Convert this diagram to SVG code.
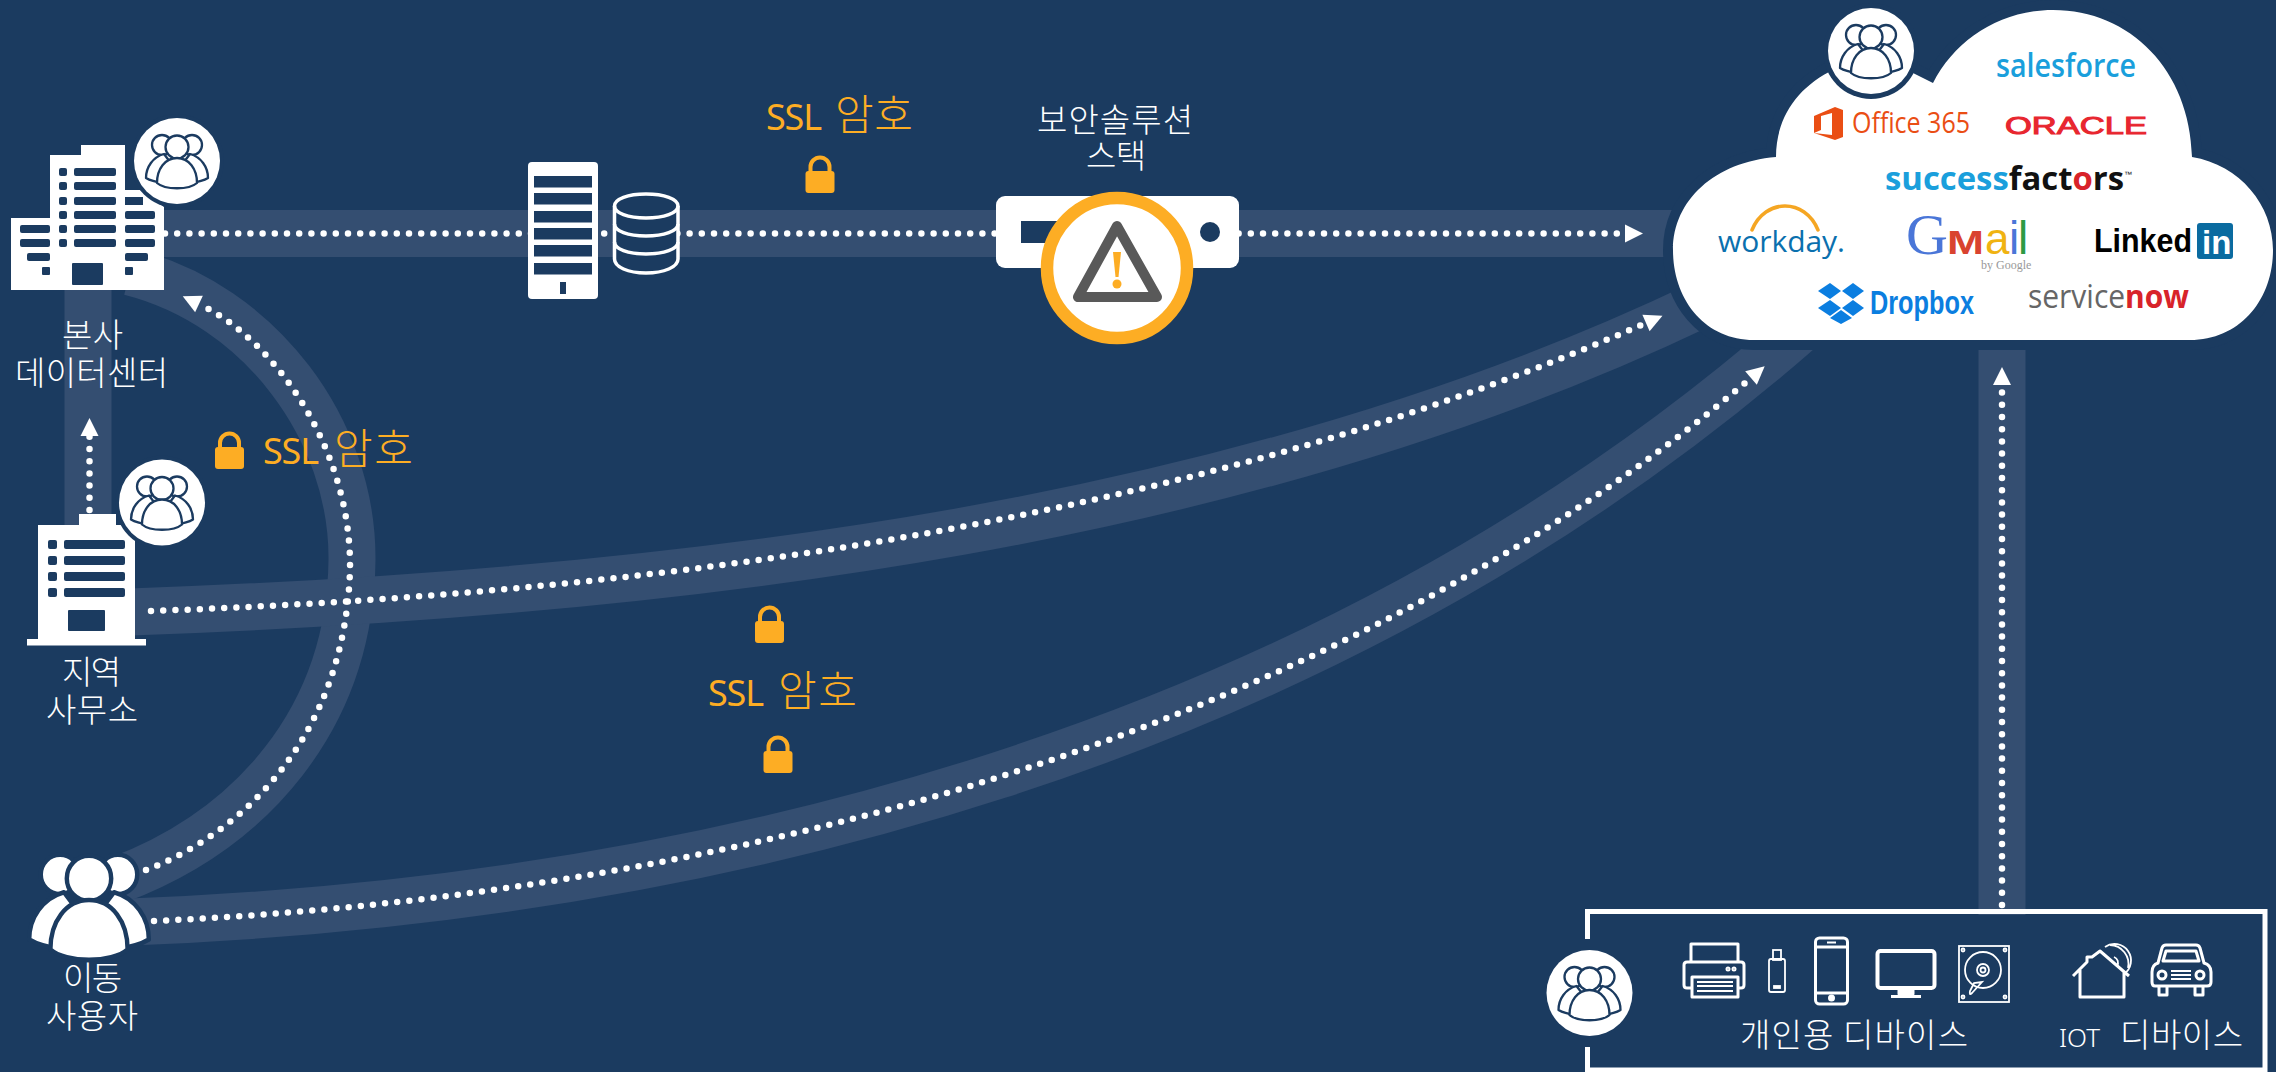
<svg xmlns="http://www.w3.org/2000/svg" width="2276" height="1072" viewBox="0 0 2276 1072">
<style>
.lbl{font-family:"Noto Sans CJK KR","Noto Sans",sans-serif;font-size:33px;fill:#fff;font-weight:300}
.ssl{font-family:"Noto Sans CJK KR","Noto Sans",sans-serif;font-size:42px;fill:#fdad24;font-weight:300}
.ssl .en{font-family:"Noto Sans","Open Sans",sans-serif;font-size:36px;font-weight:400}
.band{fill:none;stroke:#344e71;stroke-width:47}
.dots{fill:none;stroke:#fff;stroke-width:6.5;stroke-linecap:round;stroke-dasharray:0 12.2}
.dev{fill:none;stroke:#fff;stroke-width:3;stroke-linejoin:round}
.thin{fill:none;stroke:#fff;stroke-width:1.8}
.win{fill:#1b3b60}
.badge{fill:#fff}
.logo{font-family:"Open Sans","Liberation Sans",sans-serif}
.arial{font-family:"Liberation Sans",Arial,sans-serif}
</style>
<defs>
<marker id="arr" markerUnits="userSpaceOnUse" markerWidth="20" markerHeight="20" refX="1" refY="10" orient="auto"><path d="M1 1L19 10L1 19Z" fill="#fff"/></marker>
<g id="people" fill="#fff" stroke="#1b3b60" stroke-width="2.3" stroke-linejoin="round">
<circle cx="-15" cy="-16" r="10"/><circle cx="15" cy="-16" r="10"/>
<path d="M-13-7C-24-4-31 6-31 17C-26 20-21 21-14 22L0 10Z"/>
<path d="M13-7C24-4 31 6 31 17C26 20 21 21 14 22L0 10Z"/>
<circle cx="0" cy="-14" r="11.5"/>
<path d="M0-3C-12-3-20 8-20 22C-12 29 12 29 20 22C20 8 12-3 0-3Z"/>
</g>
<g id="lock"><path d="M-9.500 -3V-8A9.500 9.500 0 0 1 9.500 -8V-3" fill="none" stroke="#fdad24" stroke-width="4"/><rect x="-14.500" y="-4" width="29" height="22" rx="3" fill="#fdad24"/></g>
</defs>
<rect width="2276" height="1072" fill="#1b3b60"/>
<g id="connectors">
<path class="band" d="M120 233.500H1700"/>
<path class="band" d="M88 285V530"/>
<path class="band" d="M118 880C250 830 350 720 352 560C353 430 260 305 130 272"/>
<path class="band" d="M130 612C700 592 1250 520 1700 305"/>
<path class="band" d="M130 922C700 900 1320 750 1800 330"/>
<path class="band" d="M2002 300V915"/>
<path class="dots" d="M165 233.500H1625" marker-end="url(#arr)"/>
<path class="dots" d="M89.500 510V436" marker-end="url(#arr)"/>
<path class="dots" d="M146 870C250 830 345 730 350 570C352 450 275 340 199 304" marker-end="url(#arr)"/>
<path class="dots" d="M151 611C700 592 1220 510 1646 323" marker-end="url(#arr)"/>
<path class="dots" d="M154 921C700 897 1320 745 1751 378" marker-end="url(#arr)"/>
<path class="dots" d="M2002 905V385" marker-end="url(#arr)"/>
</g>
<g id="hq">
<path fill="#fff" d="M11 218H50V155H81V145H125V190H140L164 207V290H11Z"/>
<g class="win">
<rect x="59" y="168" width="8" height="8" rx="2"/><rect x="74" y="168" width="42" height="8" rx="2"/>
<rect x="59" y="182" width="8" height="8" rx="2"/><rect x="74" y="182" width="42" height="8" rx="2"/>
<rect x="59" y="197" width="8" height="8" rx="2"/><rect x="74" y="197" width="42" height="8" rx="2"/><rect x="125" y="197" width="18" height="8"/>
<rect x="59" y="211" width="8" height="8" rx="2"/><rect x="74" y="211" width="42" height="8" rx="2"/><rect x="125" y="211" width="30" height="8" rx="2"/>
<rect x="59" y="225" width="8" height="8" rx="2"/><rect x="74" y="225" width="42" height="8" rx="2"/><rect x="125" y="225" width="30" height="8" rx="2"/><rect x="20" y="225" width="30" height="8" rx="2"/>
<rect x="59" y="239" width="8" height="8" rx="2"/><rect x="74" y="239" width="42" height="8" rx="2"/><rect x="125" y="239" width="30" height="8" rx="2"/><rect x="20" y="239" width="30" height="8" rx="2"/>
<rect x="27" y="253" width="23" height="8" rx="2"/><rect x="125" y="253" width="23" height="8" rx="2"/>
<rect x="42" y="267" width="8" height="8" rx="1"/><rect x="125" y="267" width="8" height="8" rx="1"/>
<rect x="72" y="263" width="31" height="22" rx="1"/>
</g>
<circle cx="177" cy="161" r="47" fill="#1b3b60"/><circle class="badge" cx="177" cy="161" r="43"/><use href="#people" x="177" y="161"/>
<text class="lbl" x="62" y="347" textLength="61">본사</text>
<text class="lbl" x="15" y="385" textLength="153">데이터센터</text>
</g>
<g id="datacenter">
<rect x="528" y="162" width="70" height="137" rx="4" fill="#fff"/>
<g class="win"><rect x="534" y="176" width="58" height="11.500"/><rect x="534" y="193" width="58" height="11.500"/><rect x="534" y="211" width="58" height="11.500"/><rect x="534" y="228" width="58" height="11.500"/><rect x="534" y="245" width="58" height="11.500"/><rect x="534" y="263" width="58" height="11.500"/><rect x="560" y="282" width="6" height="12"/></g>
<path d="M614.500 206C614.500 199 628 194 646 194C664 194 678 199 678 206V259C678 267 664 273 646 273C628 273 614.500 267 614.500 259Z" fill="#1b3b60" stroke="#fff" stroke-width="3.500"/>
<path d="M614.500 206C614.500 213 628 218 646 218C664 218 678 213 678 206M614.500 224C614.500 231 628 236 646 236C664 236 678 231 678 224M614.500 242C614.500 249 628 254 646 254C664 254 678 249 678 242" fill="none" stroke="#fff" stroke-width="3.500"/>
</g>
<g id="ssl-labels">
<text class="ssl" y="130"><tspan class="en" x="766" textLength="56">SSL</tspan> <tspan x="835" textLength="78">암호</tspan></text><use href="#lock" x="820" y="175"/>
<text class="ssl" y="464"><tspan class="en" x="263" textLength="56">SSL</tspan> <tspan x="334" textLength="79">암호</tspan></text><use href="#lock" x="229.500" y="451"/>
<text class="ssl" y="706"><tspan class="en" x="708" textLength="56">SSL</tspan> <tspan x="778" textLength="79">암호</tspan></text><use href="#lock" x="769.500" y="625"/><use href="#lock" x="778" y="755"/>
</g>
<g id="security">
<text class="lbl" x="1037" y="132" textLength="156">보안솔루션</text>
<text class="lbl" x="1086" y="168" textLength="60">스택</text>
<rect x="996" y="196" width="243" height="72" rx="9" fill="#fff"/>
<rect class="win" x="1021" y="221" width="39" height="22"/><circle class="win" cx="1210" cy="232" r="10"/>
<circle cx="1117" cy="268" r="70" fill="#fff" stroke="#fdad24" stroke-width="12.500"/>
<path d="M1117 226L1078 297H1157Z" fill="none" stroke="#595959" stroke-width="10" stroke-linejoin="round"/>
<path d="M1113 252H1121L1118.500 277H1115.500Z" fill="#fdad24"/><circle cx="1117" cy="284" r="4.500" fill="#fdad24"/>
</g>
<g id="regional">
<path fill="#fff" d="M38 525H79V514H116V525H135V639H146V645.500H27V639H38Z"/>
<g class="win">
<rect x="48" y="540" width="9" height="9" rx="2"/><rect x="64" y="540" width="61" height="9" rx="2"/>
<rect x="48" y="556" width="9" height="9" rx="2"/><rect x="64" y="556" width="61" height="9" rx="2"/>
<rect x="48" y="572" width="9" height="9" rx="2"/><rect x="64" y="572" width="61" height="9" rx="2"/>
<rect x="48" y="588" width="9" height="9" rx="2"/><rect x="64" y="588" width="61" height="9" rx="2"/>
<rect x="68" y="610" width="37" height="21" rx="1"/>
</g>
<circle cx="162" cy="502.500" r="47" fill="#1b3b60"/><circle class="badge" cx="162" cy="502.500" r="43"/><use href="#people" x="162" y="502.500"/>
<text class="lbl" x="62" y="684" textLength="59">지역</text>
<text class="lbl" x="46" y="722" textLength="92">사무소</text>
</g>
<g id="mobile-user">
<use href="#people" transform="translate(89 906) scale(1.93 1.97)"/>
<text class="lbl" x="63" y="990" textLength="59">이동</text>
<text class="lbl" x="46" y="1028" textLength="92">사용자</text>
</g>
<g id="cloud">
<path fill="#fff" stroke="#1b3b60" stroke-width="20" paint-order="stroke" d="M1754 340C1705 340 1673 300 1673 250C1673 200 1715 162 1776 157C1776 120 1795 90 1829 72L1871 60L1911 72L1933 83C1955 40 2000 10 2053 10C2130 10 2190 70 2192 157C2240 165 2273 205 2273 250C2273 300 2240 340 2190 340Z"/>
<circle cx="1871" cy="51" r="48" fill="#1b3b60"/><circle class="badge" cx="1871" cy="51" r="43"/><use href="#people" x="1871" y="51"/>
<text class="logo" x="1996" y="77" font-size="33" font-weight="600" fill="#1a9fdc" textLength="140" lengthAdjust="spacingAndGlyphs">salesforce</text>
<path fill="#ea4e14" d="M1814 116L1835 107L1843 110V137L1835 140L1814 133L1832 135V113L1821 116V130L1814 133Z"/>
<text class="logo" x="1852" y="133" font-size="30" fill="#ea4e14" textLength="118" lengthAdjust="spacingAndGlyphs">Office 365</text>
<text class="arial" x="2005" y="134" font-size="24" fill="#e8262f" stroke="#e8262f" stroke-width="1" textLength="142" lengthAdjust="spacingAndGlyphs">ORACLE</text>
<text class="logo" x="1885" y="190" font-size="32" font-weight="700" textLength="239" lengthAdjust="spacingAndGlyphs"><tspan fill="#1a9fdc">success</tspan><tspan fill="#111">fact</tspan><tspan fill="#d8232a">o</tspan><tspan fill="#111">rs</tspan></text>
<text class="arial" x="2124" y="177" font-size="8" fill="#111">™</text>
<path d="M1752 230C1765 198 1805 198 1818 230" fill="none" stroke="#f5a623" stroke-width="3.500" stroke-linecap="round"/>
<text class="logo" x="1718" y="252" font-size="30" fill="#0a70ae" textLength="127">workday.</text>
<text y="254" font-family="Liberation Sans,sans-serif"><tspan x="1906" font-family="Liberation Serif,serif" font-size="58" fill="#4a76d8">G</tspan><tspan x="1947" font-size="34" font-weight="700" fill="#d9432f" textLength="37" lengthAdjust="spacingAndGlyphs">M</tspan><tspan x="1985" font-size="44" fill="#f0b312">a</tspan><tspan x="2009" font-size="46" fill="#4a76d8">i</tspan><tspan x="2018" font-size="46" fill="#2e9a44">l</tspan></text>
<text x="1981" y="269" font-family="Liberation Serif,serif" font-size="12" fill="#999">by Google</text>
<text class="arial" x="2094" y="252" font-size="33" font-weight="700" fill="#000" textLength="98" lengthAdjust="spacingAndGlyphs">Linked</text>
<rect x="2197" y="223" width="36" height="36" rx="3" fill="#0a6ba0"/>
<text class="arial" x="2202" y="254" font-size="33" font-weight="700" fill="#fff">in</text>
<path fill="#0b7ee0" d="M1830 283L1841 291L1830 299L1818 291ZM1853 283L1864 291L1853 299L1842 291ZM1830 300L1841 308L1830 316L1818 308ZM1853 300L1864 308L1853 316L1842 308ZM1841 310L1852 318L1841 324L1830 318Z"/>
<text class="arial" x="1870" y="314" font-size="34" font-weight="700" fill="#0b7ee0" textLength="104" lengthAdjust="spacingAndGlyphs">Dropbox</text>
<text class="logo" x="2028" y="308" font-size="33" textLength="161" lengthAdjust="spacingAndGlyphs"><tspan fill="#666">service</tspan><tspan fill="#d8232a" font-weight="700">now</tspan></text>
</g>
<g id="devices">
<path fill="none" stroke="#fff" stroke-width="5" d="M1587.500 939V911.500H2265V1070H1587.500V1047"/>
<circle class="badge" cx="1589.500" cy="993" r="43"/><use href="#people" x="1589.500" y="993"/>
<g id="printer" class="dev"><path d="M1691 962V944H1738V962"/><path d="M1693 988H1687Q1684 988 1684 985V965Q1684 962 1687 962H1741Q1744 962 1744 965V985Q1744 988 1741 988H1738"/><rect x="1692" y="977" width="46" height="20" fill="#1b3b60"/><path class="thin" d="M1697 982H1733M1697 986H1733M1697 991H1733"/><circle cx="1728" cy="969" r="1"/><circle cx="1734" cy="969" r="1"/></g>
<g id="usb" class="thin"><rect x="1773" y="950" width="8" height="10"/><rect x="1769" y="959" width="16" height="33" rx="2"/><rect x="1774" y="986" width="6" height="2" fill="#fff"/></g>
<g id="phone" class="dev"><rect x="1815.500" y="938" width="32" height="66" rx="4"/><path d="M1816 947H1847M1816 993H1847"/><rect x="1827" y="941.500" width="9" height="2" fill="#fff" stroke="none"/><circle cx="1831.500" cy="998" r="2" fill="#fff"/></g>
<g id="monitor" class="dev"><rect x="1877.500" y="951" width="57" height="37" rx="3" stroke-width="4"/><path d="M1899 988V994H1913V988Z" fill="#fff"/><rect x="1891" y="995" width="30" height="3" fill="#fff" stroke="none"/></g>
<g id="hdd" class="thin"><rect x="1959" y="946" width="50" height="56"/><circle cx="1983" cy="970" r="18"/><circle cx="1983" cy="970" r="6"/><circle cx="1983" cy="970" r="2.500"/><path d="M1982 982L1972 993Q1969 996 1970 991L1974 983Z"/><circle cx="1963" cy="950" r="1.500"/><circle cx="2005" cy="950" r="1.500"/><circle cx="1963" cy="997" r="1.500"/><circle cx="2005" cy="997" r="1.500"/></g>
<g id="home" class="dev"><path d="M2073 976L2087 962V957H2092V957L2100 951L2129 976M2080 970V997H2124V972"/><path class="thin" d="M2105 947A12 12 0 0 1 2124 974M2110 945A19 19 0 0 1 2128 968M2114 957A6 6 0 0 1 2117 966"/></g>
<g id="car" class="dev"><path d="M2158 963L2162 948Q2163 945 2166 945H2196Q2199 945 2200 948L2204 963Q2211 965 2211 972V982Q2211 986 2207 986H2155Q2152 986 2152 982V972Q2152 965 2158 963Z"/><path d="M2163 961L2166 951H2196L2199 961Z"/><circle cx="2162" cy="975" r="4"/><circle cx="2200" cy="975" r="4"/><path d="M2171 971H2191M2171 975H2191M2171 979H2191" stroke-width="2"/><path d="M2159 986V995H2167V986M2195 986V995H2203V986"/></g>
<text class="lbl" x="1740" y="1047" textLength="228">개인용 디바이스</text>
<text class="lbl" x="2059" y="1047" style="font-size:26px;font-family:'Noto Sans',sans-serif" textLength="41">IOT</text>
<text class="lbl" x="2120" y="1047" textLength="123">디바이스</text>
</g>
</svg>
